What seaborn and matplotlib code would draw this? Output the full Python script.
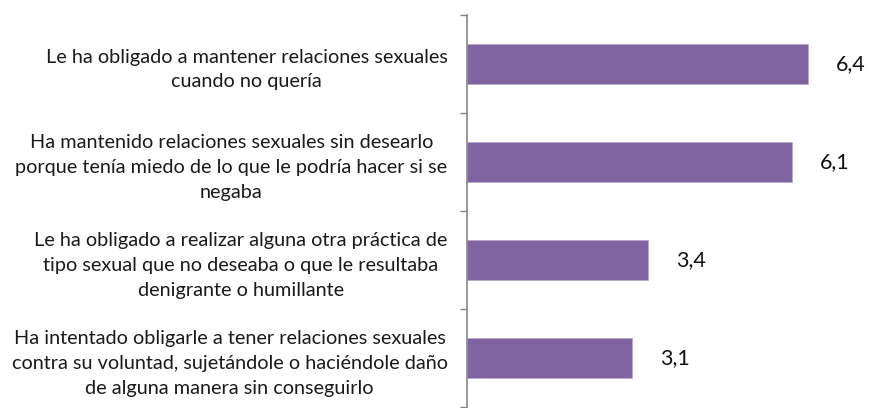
import pandas as pd
import seaborn as sns
import matplotlib
matplotlib.use("Agg")
import matplotlib.pyplot as plt

categorias = [
    "Le ha obligado a mantener relaciones sexuales\ncuando no quería",
    "Ha mantenido relaciones sexuales sin desearlo\nporque tenía miedo de lo que le podría hacer si se\nnegaba",
    "Le ha obligado a realizar alguna otra práctica de\ntipo sexual que no deseaba o que le resultaba\ndenigrante o humillante",
    "Ha intentado obligarle a tener relaciones sexuales\ncontra su voluntad, sujetándole o haciéndole daño\nde alguna manera sin conseguirlo",
]
valores = [6.4, 6.1, 3.4, 3.1]
etiquetas = ["6,4", "6,1", "3,4", "3,1"]

df = pd.DataFrame({"categoria": categorias, "valor": valores})

sns.set_style("white")
plt.rcParams["font.family"] = ["Lato", "DejaVu Sans"]

fig = plt.figure(figsize=(8.69, 4.08), dpi=100)
ax = fig.add_axes([467 / 869, 1 / 408, 400 / 869, 392 / 408])

sns.barplot(data=df, x="valor", y="categoria", color="#8064A2", width=0.41,
            saturation=1, edgecolor="#B9A9CC", linewidth=0.6, ax=ax)

ax.set_xlim(0, 7.5)
ax.set_ylim(3.5, -0.5)
ax.set_xlabel("")
ax.set_ylabel("")
ax.set_xticks([])

# etiquetas de categoría centradas
ax.set_yticks(range(len(categorias)))
ax.set_yticklabels(categorias, fontsize=14.3, multialignment="center",
                   linespacing=1.55, color="#1a1a1a")
ax.tick_params(axis="y", which="major", length=0, pad=14)

# marcas en los límites entre categorías
ax.set_yticks([-0.5, 0.5, 1.5, 2.5, 3.5], minor=True)
ax.tick_params(axis="y", which="minor", length=5, width=1, color="#868686", left=True)

for s in ["top", "right", "bottom"]:
    ax.spines[s].set_visible(False)
ax.spines["left"].set_color("#868686")
ax.spines["left"].set_linewidth(1.2)

for i, (v, t) in enumerate(zip(valores, etiquetas)):
    ax.annotate(t, (v, i), xytext=(20, 0), textcoords="offset points",
                va="center", ha="left", fontsize=15.5, color="#111111")

fig.savefig("out.png", dpi=100)
